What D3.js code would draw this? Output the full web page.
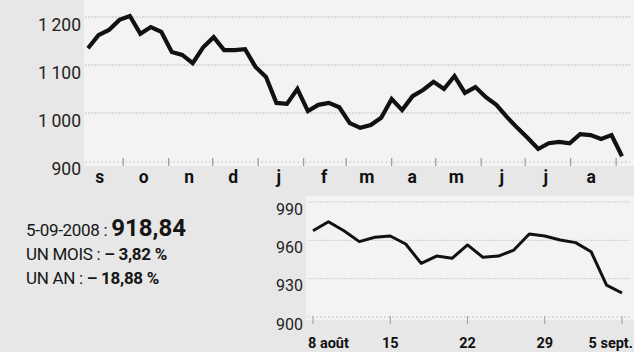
<!DOCTYPE html>
<html><head><meta charset="utf-8">
<script src="https://cdn.jsdelivr.net/npm/d3@7"></script>
<style>
html,body{margin:0;padding:0;background:#e7e7e7;}
svg{display:block;}
text{font-family:Roboto,"Liberation Sans",sans-serif;}
</style></head><body>
<svg id="c" width="634" height="352"></svg>
<script>
// ---- data ----
const yearValues = [1135,1162,1173,1194,1202,1165,1179,1169,1127,1121,1104,1137,1158,1131,1131,1133,
  1096,1075,1021,1019,1050,1004,1017,1021,1012,979,969,975,990,1029,1006,1035,1048,1065,1050,1077,
  1042,1054,1033,1017,992,969,948,925,937,940,937,956,954,946,954,910];
const yearTicks = [900,1000,1100,1200];
const monthLabels = ["s","o","n","d","j","f","m","a","m","j","j","a"];
const periodStart = "2007-09-07", periodEnd = "2008-09-05";

const monthDays = ["08-08","08-11","08-12","08-13","08-14","08-15","08-18","08-19","08-20","08-21","08-22",
  "08-25","08-26","08-27","08-28","08-29","09-01","09-02","09-03","09-04","09-05"];
const monthValues = [967.5,974.6,967.5,959,962.4,963.4,957.1,942,947.7,945.9,956.4,946.7,947.7,952.4,
  965,963.4,960.3,958.2,951.1,925,918.8];
const monthTicks = [900,930,960,990];
const dayTickDays = ["08-08","08-15","08-22","08-29","09-05"];
const dayTickLabels = ["8 août","15","22","29","5 sept."];

const summaryDate = "5-09-2008 : ", summaryValue = "918,84";
const summaryRows = [["UN MOIS : ","– 3,82 %"],["UN AN : ","– 18,88 %"]];

// ---- drawing ----
const svg = d3.select("#c");
const fmt = d3.formatLocale({decimal:",",thousands:"\u2009",grouping:[3],currency:["","€"]}).format(",d");

// paper areas
svg.append("rect").attr("x",84).attr("y",0).attr("width",550).attr("height",166).attr("fill","#f3f3f3");
svg.append("rect").attr("x",306).attr("y",196).attr("width",328).attr("height",124).attr("fill","#f3f3f3");

// top chart
const x1 = d3.scaleLinear().domain([0, yearValues.length-1]).range([88,622]);
const t1 = d3.scaleTime().domain([new Date(periodStart), new Date(periodEnd)]).range([88,622]);
const y1 = d3.scaleLinear().domain([900,1200]).range([161,17]);

const g1 = svg.append("g");
g1.selectAll("line.grid").data(yearTicks.filter(d=>d>900)).join("line")
  .attr("x1",85).attr("x2",630).attr("y1",d=>y1(d)).attr("y2",d=>y1(d))
  .attr("stroke","#c4c4c4").attr("stroke-width",1).attr("stroke-dasharray","2,1");
g1.append("line").attr("x1",85).attr("x2",630).attr("y1",y1(900)+1).attr("y2",y1(900)+1)
  .attr("stroke","#c8c8c8").attr("stroke-dasharray","2,2");
g1.selectAll("text.yl").data(yearTicks).join("text")
  .attr("x",81).attr("y",d=>y1(d)+8).attr("text-anchor","end").attr("dominant-baseline","central")
  .attr("font-size",17.5).attr("fill","#222").text(d=>fmt(d));

const monthStarts = d3.timeMonth.range(new Date(2007,8,1), new Date(2008,8,2));
const tickDates = monthStarts.filter(d=>t1(d)>=90);
g1.selectAll("line.mt").data(tickDates).join("line")
  .attr("x1",d=>t1(d)).attr("x2",d=>t1(d)).attr("y1",y1(900)-3).attr("y2",y1(900)+5)
  .attr("stroke","#9a9a9a").attr("stroke-width",1.2);
g1.selectAll("text.ml").data(monthStarts).join("text")
  .attr("x",(d,i)=>t1(d3.timeDay.offset(d,14))).attr("y",177)
  .attr("text-anchor","middle").attr("dominant-baseline","central")
  .attr("font-size",17.5).attr("font-weight","bold").attr("fill","#111")
  .text((d,i)=>monthLabels[i]);

g1.append("path").datum(yearValues)
  .attr("d",d3.line().x((d,i)=>x1(i)).y(d=>y1(d)))
  .attr("fill","none").attr("stroke","#111").attr("stroke-width",4.2)
  .attr("stroke-linejoin","miter").attr("stroke-linecap","butt");

// bottom chart
const x2 = d3.scalePoint().domain(monthDays).range([313,622]);
const y2 = d3.scaleLinear().domain([900,990]).range([317,202]);
const g2 = svg.append("g");
g2.selectAll("line.grid").data(monthTicks.filter(d=>d>900)).join("line")
  .attr("x1",308).attr("x2",630).attr("y1",d=>y2(d)).attr("y2",d=>y2(d))
  .attr("stroke","#cdcdcd").attr("stroke-width",1).attr("stroke-dasharray","2,1");
g2.append("line").attr("x1",308).attr("x2",630).attr("y1",y2(900)).attr("y2",y2(900))
  .attr("stroke","#c8c8c8").attr("stroke-dasharray","2,2");
g2.selectAll("text.yl").data(monthTicks).join("text")
  .attr("x",303).attr("y",d=>y2(d)+7).attr("text-anchor","end").attr("dominant-baseline","central")
  .attr("font-size",16).attr("fill","#222").text(d=>d);
g2.selectAll("line.dt").data(dayTickDays).join("line")
  .attr("x1",d=>x2(d)).attr("x2",d=>x2(d)).attr("y1",y2(900)-1).attr("y2",y2(900)+7)
  .attr("stroke","#a8a8a8").attr("stroke-width",1.2);
g2.selectAll("text.dl").data(dayTickDays).join("text")
  .attr("x",(d,i)=> i===0 ? x2(d)-5 : (i===dayTickDays.length-1 ? 633 : x2(d)))
  .attr("y",343)
  .attr("text-anchor",(d,i)=> i===0 ? "start" : (i===dayTickDays.length-1 ? "end" : "middle"))
  .attr("dominant-baseline","central")
  .attr("font-size",14.5).attr("font-weight","bold").attr("fill","#111")
  .text((d,i)=>dayTickLabels[i]);
g2.append("path").datum(monthValues)
  .attr("d",d3.line().x((d,i)=>x2(monthDays[i])).y(d=>y2(d)))
  .attr("fill","none").attr("stroke","#111").attr("stroke-width",3)
  .attr("stroke-linejoin","round");

// summary text
const s = svg.append("g").attr("fill","#151515");
const t0 = s.append("text").attr("x",26).attr("y",236);
t0.append("tspan").attr("font-size",17).attr("letter-spacing",-0.3).text(summaryDate);
t0.append("tspan").attr("font-size",24).attr("font-weight","bold").text(summaryValue);
summaryRows.forEach((r,i)=>{
  const t = s.append("text").attr("x",26).attr("y",260+i*24);
  t.append("tspan").attr("font-size",17).attr("letter-spacing",-0.3).text(r[0]);
  t.append("tspan").attr("font-size",17).attr("font-weight","bold").attr("letter-spacing",-0.3).text(r[1]);
});
</script>
</body></html>
